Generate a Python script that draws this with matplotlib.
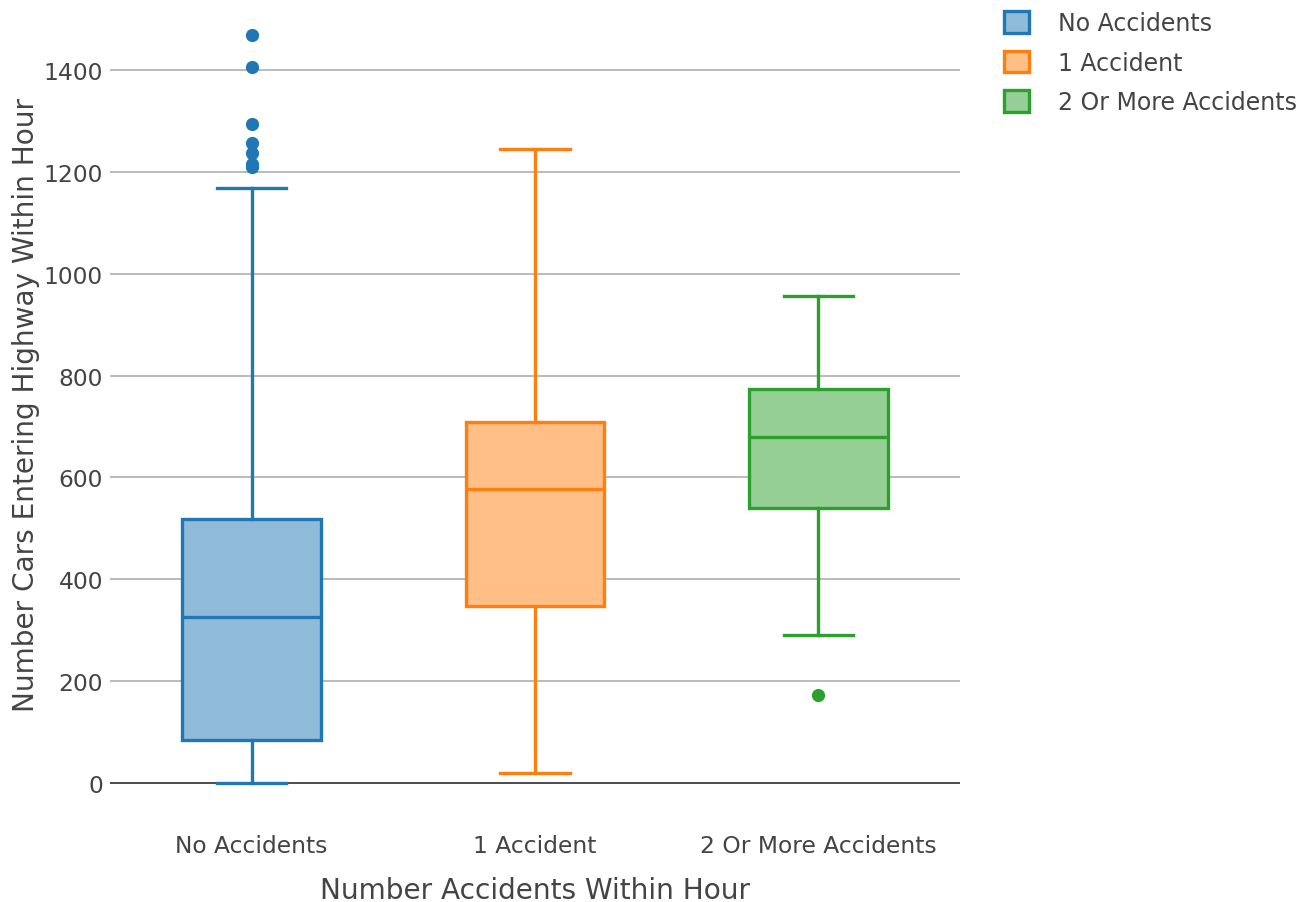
import matplotlib
matplotlib.use("Agg")
import matplotlib.pyplot as plt
from matplotlib.patches import Patch

categories = ["No Accidents", "1 Accident", "2 Or More Accidents"]
whislo = [0, 20, 291]
q1 = [84, 348, 540]
med = [326, 577, 679]
q3 = [518, 709, 774]
whishi = [1169, 1245, 957]
fliers = [
    [1210, 1216, 1237, 1256, 1294, 1405, 1469],
    [],
    [173],
]
edge_colors = ["#1f77b4", "#ff7f0e", "#2ca02c"]
fill_colors = ["#8fbbd9", "#ffbf86", "#95cf95"]
y_ticks = [0, 200, 400, 600, 800, 1000, 1200, 1400]

W, H = 1301, 903
fig = plt.figure(figsize=(W / 100, H / 100), dpi=100)
plt.rcParams['font.family'] = ['DejaVu Sans']
txt = "#444444"

left, right, top, bottom = 110, 960, 10, 800
ax = fig.add_axes([left / W, 1 - bottom / H, (right - left) / W, (bottom - top) / H])

stats = []
for i, c in enumerate(categories):
    stats.append(dict(label=c, whislo=whislo[i], q1=q1[i], med=med[i], q3=q3[i],
                      whishi=whishi[i], fliers=fliers[i]))

for i, s in enumerate(stats):
    ec = edge_colors[i]
    ax.bxp([s], positions=[i], widths=0.49, patch_artist=True, showfliers=True,
           boxprops=dict(facecolor=fill_colors[i], edgecolor=ec, linewidth=2.4),
           medianprops=dict(color=ec, linewidth=2.4),
           whiskerprops=dict(color=ec, linewidth=2.4),
           capprops=dict(color=ec, linewidth=2.4),
           flierprops=dict(marker='o', markerfacecolor=ec, markeredgecolor=ec,
                           markersize=8.5, linestyle='none'),
           zorder=3)

ax.set_xlim(-0.5, 2.5)
ax.set_ylim(-31.4, 1519.8)
ax.set_yticks(y_ticks)
ax.set_yticklabels([str(v) for v in y_ticks])
ax.set_xticks(range(len(categories)))
ax.set_xticklabels(categories)
ax.yaxis.grid(True, color="#a8a8a8", linewidth=1.1, zorder=0)
ax.axhline(0, color="#444444", linewidth=1.3, zorder=1)
ax.set_axisbelow(True)
for sp in ax.spines.values():
    sp.set_visible(False)
ax.tick_params(axis='both', length=0, labelsize=16.8, labelcolor=txt)
ax.tick_params(axis='y', pad=5)
ax.tick_params(axis='x', pad=25)
ax.set_xlabel("Number Accidents Within Hour", fontsize=20.2, color=txt, labelpad=14)
ax.set_ylabel("Number Cars Entering Highway Within Hour", fontsize=20.2, color=txt, labelpad=3)

handles = [Patch(facecolor=fill_colors[i], edgecolor=edge_colors[i], linewidth=2.4, label=c)
           for i, c in enumerate(categories)]
leg = fig.legend(handles=handles, loc='upper left', bbox_to_anchor=(1004 / W, 1 - 12 / H),
                 frameon=False, fontsize=17, handlelength=1.05, handleheight=1.05,
                 handletextpad=1.22, labelspacing=0.66, borderaxespad=0, borderpad=0)
for t in leg.get_texts():
    t.set_color(txt)

fig.savefig("out.png", dpi=100)
